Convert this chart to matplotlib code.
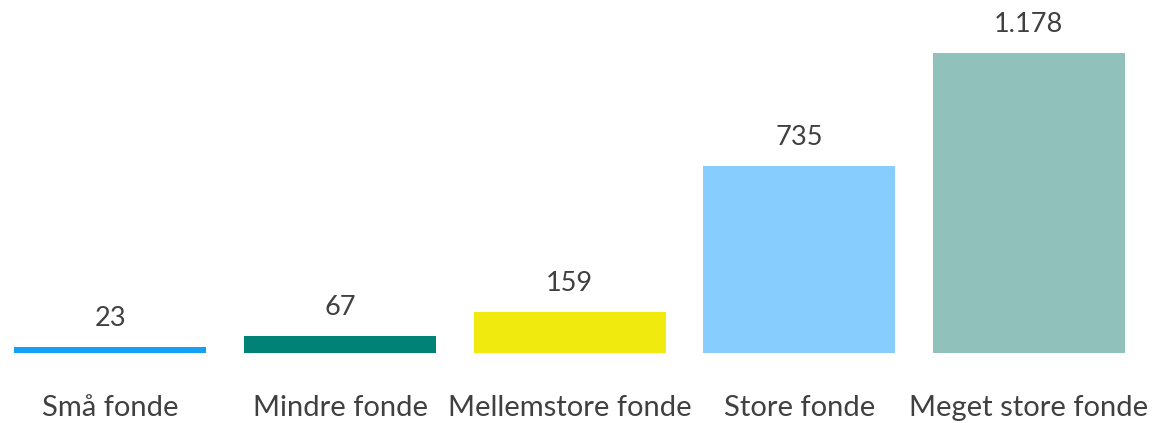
import matplotlib
matplotlib.use("Agg")
import matplotlib.pyplot as plt

categories = ["Små fonde", "Mindre fonde", "Mellemstore fonde", "Store fonde", "Meget store fonde"]
values = [23, 67, 159, 735, 1178]
value_labels = ["23", "67", "159", "735", "1.178"]
colors = ["#14A0F5", "#008276", "#F0EA0E", "#87CEFF", "#91C1BB"]

plt.rcParams['font.family'] = ['Lato', 'DejaVu Sans']
text_color = "#404040"

fig = plt.figure(figsize=(11.59, 4.23), dpi=100)
ax = fig.add_axes([0, 0, 1, 1])
x = list(range(len(categories)))
ax.bar(x, values, width=0.836, color=colors)

ax.set_xlim(-0.481, 4.567)
ax.set_ylim(-276.3, 1386.4)
ax.axis('off')

for i, (v, lab, cat) in enumerate(zip(values, value_labels, categories)):
    ax.annotate(lab, xy=(i, v), xytext=(0, 20.5), textcoords='offset points',
                ha='center', va='center', fontsize=19.5, color=text_color)
    ax.annotate(cat, xy=(i, 0), xytext=(0, -40), textcoords='offset points',
                ha='center', va='center', fontsize=21, color=text_color)

fig.savefig("out.png", dpi=100)
